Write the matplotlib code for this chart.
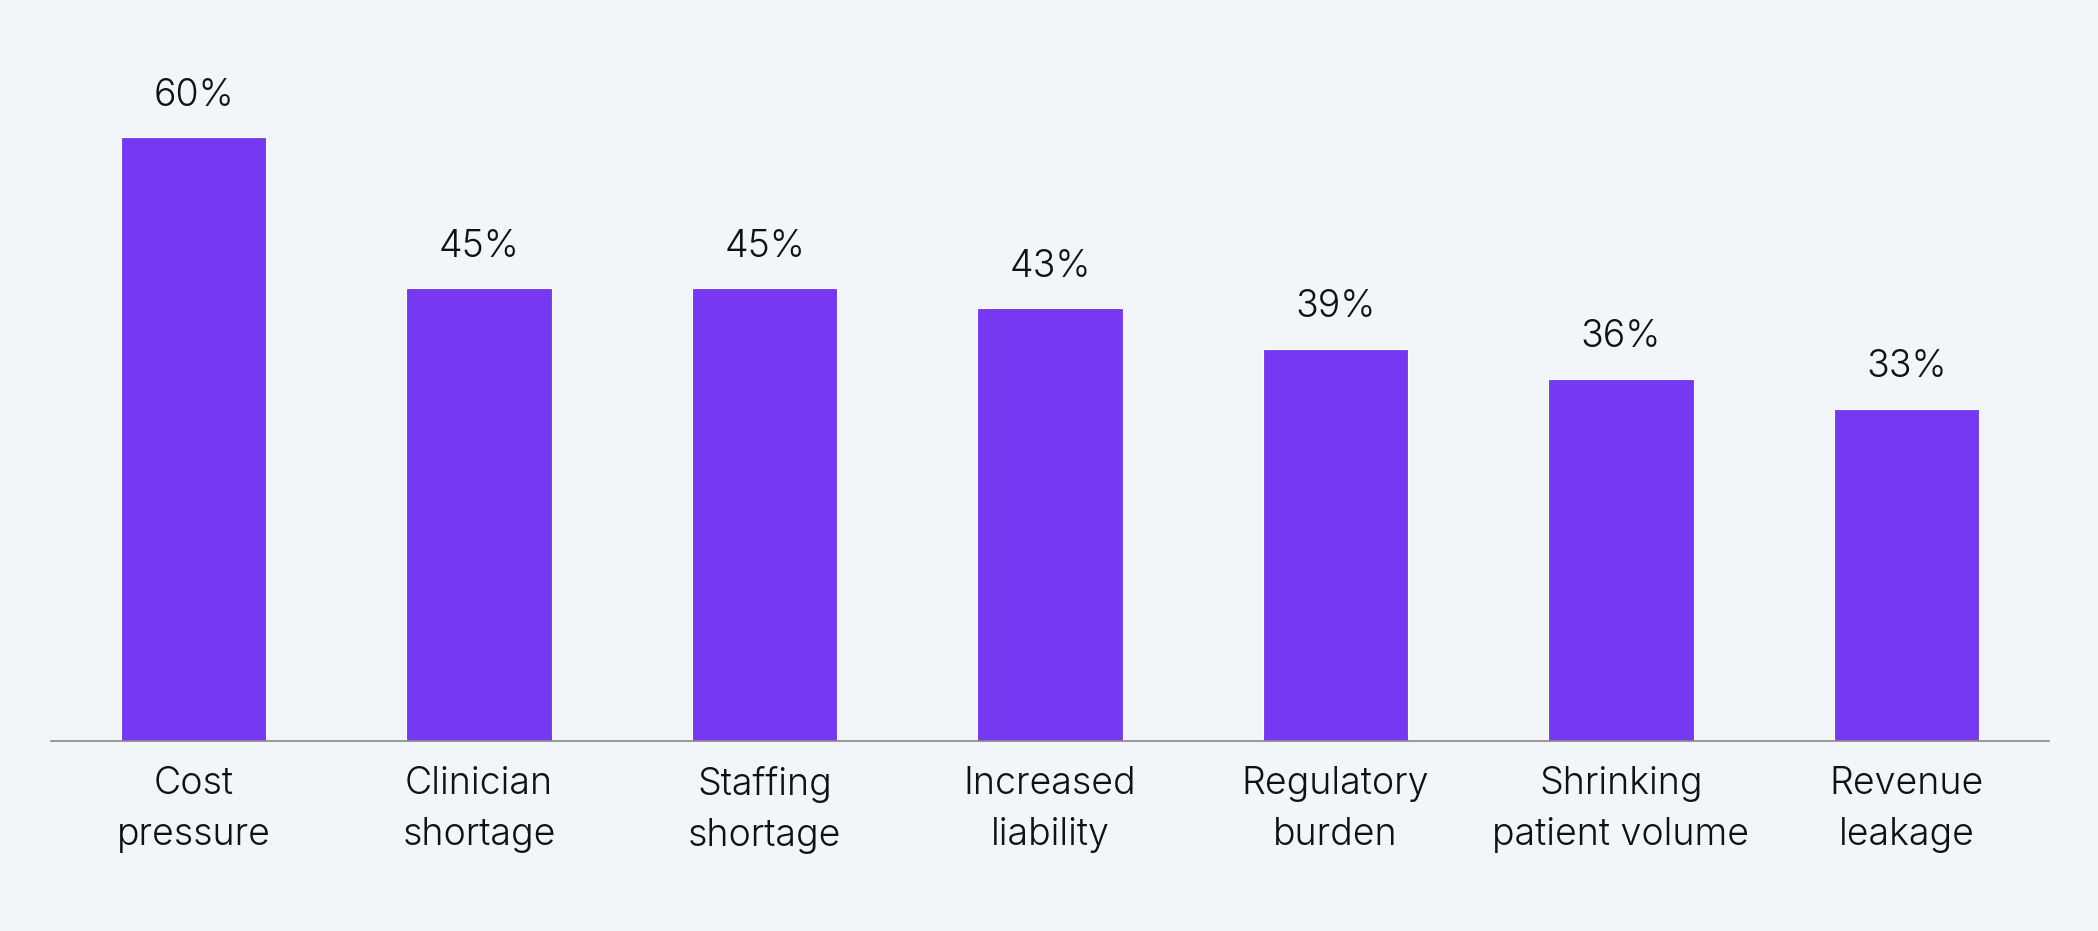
import matplotlib
matplotlib.use("Agg")
import matplotlib.pyplot as plt

categories = ["Cost\npressure", "Clinician\nshortage", "Staffing\nshortage",
              "Increased\nliability", "Regulatory\nburden",
              "Shrinking\npatient volume", "Revenue\nleakage"]
values = [60, 45, 45, 43, 39, 36, 33]

BG = "#F2F5F9"
BAR = "#7638F0"
TXT = "#111111"

plt.rcParams["font.family"] = ["Inter", "DejaVu Sans"]
plt.rcParams["font.weight"] = 300

fig = plt.figure(figsize=(20.98, 9.31), dpi=100, facecolor=BG)
ax = fig.add_axes([0.0243, 0.204, 0.9524, 0.7565], facecolor=BG)

x = range(len(categories))
bars = ax.bar(x, values, width=0.51, color=BAR, edgecolor="white", linewidth=0.8)

for b, v in zip(bars, values):
    ax.annotate(f"{v}%", (b.get_x() + b.get_width() / 2, v),
                xytext=(0, 17), textcoords="offset points",
                ha="center", va="bottom", fontsize=27, color=TXT, fontweight=300)

ax.set_xlim(-0.5, len(categories) - 0.5)
ax.set_ylim(0, 70)
ax.set_xticks(list(x))
ax.set_xticklabels(categories, fontsize=27, color=TXT, linespacing=1.55, fontweight=300)
ax.tick_params(axis="x", length=0, pad=18)
ax.set_yticks([])
for s in ("top", "right", "left"):
    ax.spines[s].set_visible(False)
ax.spines["bottom"].set_color("#888888")
ax.spines["bottom"].set_linewidth(1.2)

fig.savefig("out.png", dpi=100, facecolor=BG)
